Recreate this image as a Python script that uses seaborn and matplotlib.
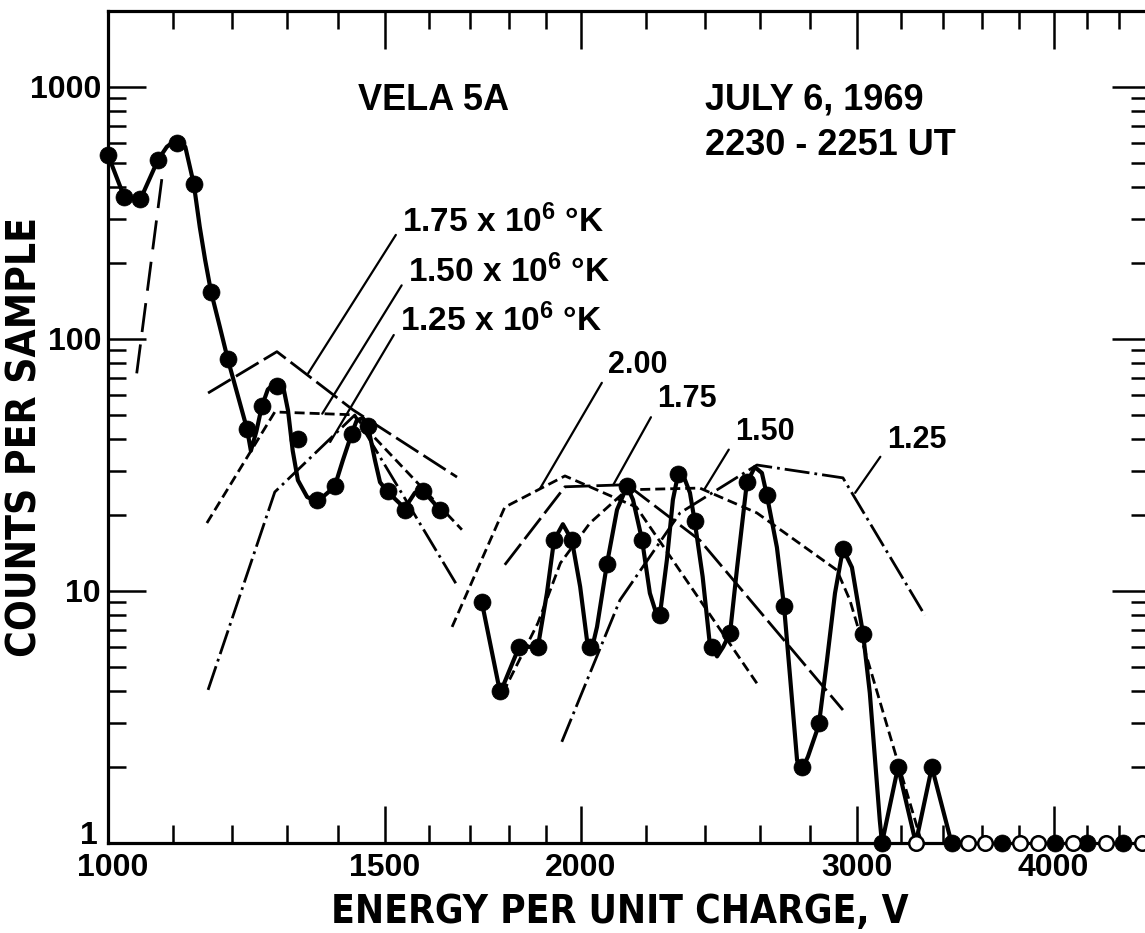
import matplotlib
matplotlib.use("Agg")
import matplotlib.pyplot as plt
from matplotlib import font_manager as fm
from matplotlib import transforms as mtrans
from matplotlib.ticker import FixedLocator, FixedFormatter, NullFormatter
import pandas as pd
import seaborn as sns

# ---------------- data ----------------
energy = [1000, 1024, 1048, 1076, 1106, 1134, 1163, 1192, 1226, 1253, 1281, 1321,
          1359, 1394, 1430, 1464, 1507, 1545, 1587, 1627,
          1730, 1777, 1826, 1878, 1923, 1974, 2027, 2078, 2140, 2188, 2245, 2306,
          2364, 2424, 2489, 2551, 2627, 2694, 2765, 2835, 2937, 3025, 3110, 3184,
          3268, 3346, 3444, 3527, 3617, 3707, 3806, 3908, 4007, 4114, 4200, 4318,
          4427, 4551]
counts = [537, 366, 359, 513, 600, 412, 154, 83, 44, 54, 65, 40,
          23, 26, 42, 45, 25, 21, 25, 21,
          9, 4, 6, 6, 16, 16, 6, 12.8, 26, 16, 8, 29,
          19, 6, 6.8, 27, 24, 8.7, 2, 3, 14.7, 6.75, 1, 2,
          1, 2, 1, 1, 1, 1, 1, 1, 1, 1, 1, 1,
          1, 1]
point_kind = (["filled"] * 44 + ["open", "filled", "filled", "open", "open", "filled",
               "open", "open", "filled", "open", "filled", "open", "filled", "open"])

# smooth hand-drawn curve through the data
curve_a_energy = [1000, 1024, 1048, 1076, 1090, 1106, 1120, 1134, 1144, 1153, 1163,
                  1178, 1192, 1226, 1233, 1243, 1253, 1264, 1281, 1292, 1302, 1311,
                  1321, 1339, 1359, 1394, 1411, 1430, 1440, 1453, 1464, 1479, 1490,
                  1507, 1545, 1568, 1587, 1627]
curve_a_counts = [537, 366, 355, 513, 578, 620, 578, 412, 278, 206, 154,
                  112, 83, 44, 36, 43, 54, 63, 68, 66, 52, 36,
                  27.5, 23.6, 22.6, 25.9, 33, 42.4, 47.5, 48.5, 45, 33, 27,
                  24.7, 21.3, 24.5, 25, 21]
curve_b_energy = [1730, 1777, 1827, 1878, 1903, 1923, 1948, 1974, 1998, 2018, 2030,
                  2048, 2078, 2109, 2140, 2159, 2188, 2213, 2233, 2245, 2269, 2289,
                  2306, 2321, 2347, 2363, 2391, 2416, 2442, 2464, 2489, 2515, 2551,
                  2581, 2608, 2627, 2666, 2694, 2718, 2746, 2765, 2790, 2835, 2869,
                  2903, 2937, 2976, 3025, 3055, 3100, 3110, 3184, 3268, 3346, 3444]
curve_b_counts = [9.0, 3.94, 6.0, 6.0, 9.8, 15.9, 18.4, 15.9, 10.4, 6.4, 5.7,
                  7.2, 12.8, 21, 26, 23, 15.9, 9.8, 8.2, 7.9, 13.3, 23,
                  28.9, 29.4, 24.5, 19, 11.4, 6.2, 5.5, 6.0, 6.8, 12.4, 26.8,
                  31, 29.4, 24, 14.9, 8.7, 4.56, 2.13, 1.95, 2.2, 2.94, 5.3,
                  9.8, 14.7, 12.4, 6.75, 3.94, 1.23, 1.0, 2.0, 1.0, 2.0, 1.0]

# model (Maxwellian) curves
proton_energy = [1043, 1084]
proton_counts = [73, 469]
low_175_energy = [1158, 1281, 1432, 1668]
low_175_counts = [61, 89, 52.3, 28.3]
low_150_energy = [1156, 1277, 1432, 1680]
low_150_counts = [18.6, 51.3, 50, 17.5]
low_125_energy = [1158, 1277, 1436, 1670]
low_125_counts = [4.05, 24.7, 49.9, 10.4]
high_200_energy = [1656, 1789, 1954, 2170, 2589]
high_200_counts = [7.2, 21.5, 28.6, 21.5, 4.3]
high_175_energy = [1789, 1954, 2140, 2381, 2937]
high_175_counts = [12.7, 25.9, 26.4, 15.9, 3.37]
high_150_energy = [1784, 1878, 1941, 2027, 2140, 2381, 2589, 2911, 2967, 3297]
high_150_counts = [3.94, 7.46, 12.9, 18.6, 25.2, 25.6, 20.4, 12.1, 9.2, 1.0]
high_125_energy = [1945, 2118, 2313, 2589, 2937, 3312]
high_125_counts = [2.52, 9.2, 20.4, 31.6, 28.1, 8.0]

x_major = [1000, 1500, 2000, 3000, 4000]
x_major_labels = ["1000", "1500", "2000", "3000", "4000"]
x_minor = [1100, 1200, 1300, 1400, 1600, 1700, 1800, 1900, 2200, 2400, 2600,
           2800, 3200, 3400, 3600, 3800, 4200, 4400]
y_major = [1, 10, 100, 1000]
y_major_labels = ["1", "10", "100", "1000"]
y_minor = [m * d for d in (1, 10, 100, 1000) for m in range(2, 10) if m * d <= 2000]

# ---------------- styling ----------------
sns.set_theme(style="ticks")
plt.rcParams["font.family"] = ["Liberation Sans", "DejaVu Sans"]
plt.rcParams["font.weight"] = "bold"
plt.rcParams["mathtext.fontset"] = "custom"
plt.rcParams["mathtext.rm"] = "Liberation Sans:bold"
plt.rcParams["mathtext.it"] = "Liberation Sans:bold"
plt.rcParams["mathtext.bf"] = "Liberation Sans:bold"
plt.rcParams["mathtext.default"] = "rm"


def _wnum(w):
    if isinstance(w, (int, float)):
        return w
    return {"bold": 700, "semibold": 600, "demibold": 600, "heavy": 800,
            "extra bold": 800, "black": 900}.get(str(w).lower(), 400)


# a bold condensed face for the axis titles, if one is installed
label_fp = fm.FontProperties(family="Liberation Sans", weight="bold")
best = None
for f in fm.fontManager.ttflist:
    cond = ("condensed" in str(f.stretch).lower() or "Narrow" in f.name
            or "Condensed" in f.name)
    if cond and f.fname.lower().endswith((".ttf", ".otf")):
        score = abs(_wnum(f.weight) - 720)
        if "semi" in str(f.stretch).lower():
            score += 30
        if best is None or score < best[0]:
            best = (score, f.fname)
if best is not None and best[0] <= 120:
    label_fp = fm.FontProperties(fname=best[1])

fig = plt.figure(figsize=(11.45, 9.33), dpi=100)
ax = fig.add_axes([108 / 1145, 90 / 933, 1041 / 1145, 832 / 933])
ax.set_xscale("log")
ax.set_yscale("log")
ax.set_xlim(1000, 4600)
ax.set_ylim(1, 2000)

K = "black"

# data curve
for ce, cc in ((curve_a_energy, curve_a_counts), (curve_b_energy, curve_b_counts)):
    sns.lineplot(x=ce, y=cc, ax=ax, color=K, lw=3.0, estimator=None, sort=False,
                 zorder=4)

# model curves
LW = 2.0
short_dash = (0, (3.6, 1.8))
long_dash = (0, (9.5, 2.2))
dash_dot = (0, (9.0, 1.8, 1.0, 1.8))
proton_dash = (0, (10.5, 4.5))
models = [
    (proton_energy, proton_counts, proton_dash),
    (low_175_energy, low_175_counts, long_dash),
    (low_150_energy, low_150_counts, short_dash),
    (low_125_energy, low_125_counts, dash_dot),
    (high_200_energy, high_200_counts, short_dash),
    (high_175_energy, high_175_counts, long_dash),
    (high_150_energy, high_150_counts, short_dash),
    (high_125_energy, high_125_counts, dash_dot),
]
for me, mc, ls in models:
    sns.lineplot(x=me, y=mc, ax=ax, color=K, lw=LW, linestyle=ls, estimator=None,
                 sort=False, zorder=3)

# data points
df = pd.DataFrame({"energy": energy, "counts": counts, "kind": point_kind})
filled = df[df["kind"] == "filled"]
opened = df[df["kind"] == "open"]
sns.scatterplot(data=filled, x="energy", y="counts", ax=ax, color=K, s=150,
                edgecolor=K, linewidth=0.5, zorder=6, clip_on=False)
sns.scatterplot(data=opened, x="energy", y="counts", ax=ax, color="white", s=110,
                edgecolor=K, linewidth=1.8, zorder=6, clip_on=False)

# ---------------- axes ----------------
ax.xaxis.set_major_locator(FixedLocator(x_major))
ax.xaxis.set_major_formatter(FixedFormatter(x_major_labels))
ax.xaxis.set_minor_locator(FixedLocator(x_minor))
ax.xaxis.set_minor_formatter(NullFormatter())
ax.yaxis.set_major_locator(FixedLocator(y_major))
ax.yaxis.set_major_formatter(FixedFormatter(y_major_labels))
ax.yaxis.set_minor_locator(FixedLocator(y_minor))
ax.yaxis.set_minor_formatter(NullFormatter())

ax.tick_params(which="both", direction="in", top=True, right=True, color=K,
               labelsize=23, labelcolor=K, width=1.8)
ax.tick_params(which="major", length=27)
ax.tick_params(which="minor", length=13)
ax.tick_params(axis="x", which="major", pad=7)
ax.tick_params(axis="y", which="major", pad=5)
for sp in ax.spines.values():
    sp.set_linewidth(2.3)
    sp.set_color(K)

ax.set_xlabel("ENERGY PER UNIT CHARGE, V", fontproperties=label_fp, va="center",
              color=K)
ax.xaxis.label.set_fontsize(33)
ax.xaxis.set_label_coords(0.492, -0.083)
ax.set_ylabel("COUNTS PER SAMPLE", fontproperties=label_fp, va="center", color=K)
ax.yaxis.label.set_fontsize(35)
ax.yaxis.set_label_coords(-0.0797, 0.488)

fig.canvas.draw()
rend = fig.canvas.get_renderer()
# fit the axis titles to the lengths seen in the reference
xl, yl = ax.xaxis.label, ax.yaxis.label
xl.set_fontsize(xl.get_fontsize() * 577 / xl.get_window_extent(rend).width)
yl.set_fontsize(yl.get_fontsize() * 440 / yl.get_window_extent(rend).height)

# tick labels: bold; the "1" sits just above the corner, the "1000" a bit right of it
for lab in ax.get_xticklabels() + ax.get_yticklabels():
    lab.set_fontweight("bold")
ylab1 = ax.yaxis.get_major_ticks()[0].label1
ylab1.set_transform(ylab1.get_transform()
                    + mtrans.ScaledTranslation(-3 / 100, 11 / 100, fig.dpi_scale_trans))
xlab1 = ax.xaxis.get_major_ticks()[0].label1
xlab1.set_transform(xlab1.get_transform()
                    + mtrans.ScaledTranslation(5 / 100, 0, fig.dpi_scale_trans))

# ---------------- annotations ----------------
tfs = 26
ax.text(1443, 811, "VELA 5A", fontsize=tfs, fontweight="bold", ha="left",
        va="baseline", color=K)
ax.text(2399, 811, "JULY 6, 1969", fontsize=tfs, fontweight="bold", ha="left",
        va="baseline", color=K)
ax.text(2399, 537, "2230 - 2251 UT", fontsize=tfs, fontweight="bold", ha="left",
        va="baseline", color=K)

lead = dict(arrowstyle="-", color=K, lw=1.6, shrinkA=4, shrinkB=0)
temp_labels = [
    ("1.75 x $10^{6}$ °K", (1539, 266), (1341, 73), 24, (0, 0.4)),
    ("1.50 x $10^{6}$ °K", (1552, 168), (1369, 50.5), 24, (0, 0.4)),
    ("1.25 x $10^{6}$ °K", (1534, 107), (1385, 39), 24, (0, 0.4)),
    ("2.00", (2081, 73.3), (1884, 25.5), 22, (0, 0.25)),
    ("1.75", (2236, 53.7), (2097, 26.3), 22, (0, 0.25)),
    ("1.50", (2507, 39.7), (2399, 25.5), 22, (0, 0.25)),
    ("1.25", (3132, 36.9), (2990, 24.5), 22, (0, 0.25)),
]
for txt, tpos, tgt, fs, rp in temp_labels:
    ax.annotate(txt, xy=tgt, xytext=tpos, xycoords="data", textcoords="data",
                fontsize=fs, fontweight="bold", ha="left", va="baseline", color=K,
                arrowprops=dict(relpos=rp, **lead), zorder=5)

fig.savefig("out.png", dpi=100)
